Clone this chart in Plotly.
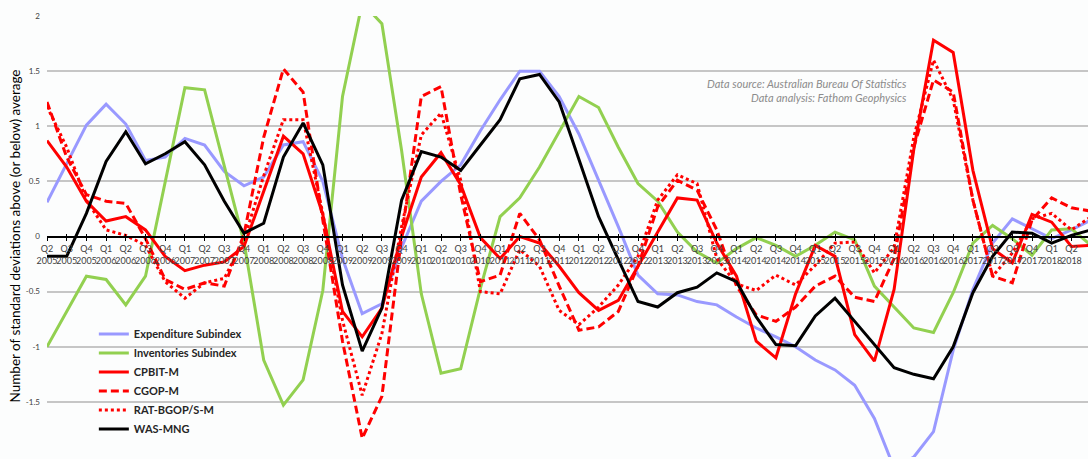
import plotly.graph_objects as go

quarters = ["Q2", "Q3", "Q4"] + ["Q1", "Q2", "Q3", "Q4"] * 12 + ["Q1", "Q2", "Q3"]
years = ["2005"] * 3 + [str(y) for y in range(2006, 2018) for _ in range(4)] + ["2018"] * 3
tick_labels = [f"{q}<br>{y}" for q, y in zip(quarters, years)]

expenditure = [0.31, 0.66, 1.01, 1.20, 1.02, 0.69, 0.72, 0.89, 0.83, 0.59, 0.46,
               0.54, 0.83, 0.86, 0.50, -0.20, -0.70, -0.61, -0.10, 0.32, 0.50, 0.65,
               0.96, 1.24, 1.50, 1.50, 1.27, 0.93, 0.51, 0.09, -0.35, -0.52, -0.53,
               -0.59, -0.62, -0.73, -0.83, -0.91, -1.00, -1.12, -1.21, -1.35, -1.65,
               -2.10, -2.00, -1.77, -1.03, -0.48, -0.06, 0.16, 0.07, -0.02, 0.06, 0.15]
inventories = [-1.00, -0.68, -0.36, -0.39, -0.62, -0.36, 0.50, 1.35, 1.33, 0.65, -0.05,
               -1.12, -1.53, -1.30, -0.49, 1.27, 2.12, 1.93, 0.78, -0.52, -1.24, -1.20,
               -0.47, 0.18, 0.35, 0.63, 0.95, 1.27, 1.17, 0.81, 0.48, 0.32, 0.04,
               -0.14, -0.24, -0.11, -0.01, -0.08, -0.18, -0.08, 0.04, -0.03, -0.45,
               -0.64, -0.83, -0.87, -0.51, -0.06, 0.10, -0.02, -0.17, 0.06, 0.07, -0.08]
cpbit = [0.87, 0.63, 0.32, 0.14, 0.18, 0.06, -0.18, -0.31, -0.26, -0.23, -0.09,
         0.42, 0.91, 0.75, 0.20, -0.68, -0.91, -0.65, 0.00, 0.54, 0.76, 0.47,
         -0.01, -0.20, 0.00, -0.06, -0.27, -0.51, -0.67, -0.58, -0.27, 0.03, 0.35,
         0.33, -0.06, -0.36, -0.95, -1.10, -0.52, -0.08, -0.18, -0.89, -1.13,
         -0.48, 0.79, 1.78, 1.67, 0.60, -0.11, -0.24, 0.20, 0.13, -0.09, -0.08]
cgop = [1.22, 0.72, 0.38, 0.32, 0.30, -0.02, -0.39, -0.48, -0.42, -0.45, 0.02,
        0.90, 1.52, 1.31, 0.15, -0.95, -1.83, -1.45, 0.00, 1.27, 1.36, 0.38,
        -0.41, -0.35, 0.21, -0.03, -0.45, -0.85, -0.82, -0.68, -0.27, 0.27, 0.51,
        0.42, 0.06, -0.45, -0.71, -0.77, -0.64, -0.45, -0.36, -0.55, -0.59,
        -0.20, 0.81, 1.42, 1.31, 0.33, -0.36, -0.42, 0.15, 0.35, 0.26, 0.23]
rat = [1.18, 0.81, 0.33, 0.06, 0.01, -0.08, -0.41, -0.56, -0.42, -0.38, -0.03,
       0.55, 1.06, 1.06, 0.21, -0.76, -1.44, -0.88, 0.09, 0.92, 1.12, 0.51,
       -0.50, -0.52, -0.12, -0.27, -0.67, -0.80, -0.64, -0.44, -0.18, 0.33, 0.56,
       0.48, -0.20, -0.43, -0.49, -0.35, -0.44, -0.26, -0.06, -0.05, -0.33,
       -0.10, 0.90, 1.60, 1.24, 0.33, -0.36, -0.15, 0.16, 0.21, 0.06, 0.18]
was = [-0.18, -0.18, 0.21, 0.68, 0.95, 0.66, 0.75, 0.86, 0.65, 0.32, 0.03,
       0.12, 0.72, 1.03, 0.65, -0.44, -1.04, -0.65, 0.33, 0.77, 0.72, 0.60,
       0.83, 1.06, 1.43, 1.47, 1.22, 0.69, 0.18, -0.21, -0.59, -0.64, -0.51,
       -0.46, -0.33, -0.41, -0.73, -0.98, -0.99, -0.72, -0.56, -0.77, -0.98,
       -1.19, -1.25, -1.29, -1.00, -0.51, -0.18, 0.04, 0.03, -0.06, 0.01, 0.06]

series = [
    ("Expenditure Subindex", expenditure, "#9999FF", "solid"),
    ("Inventories Subindex", inventories, "#92D050", "solid"),
    ("CPBIT-M", cpbit, "#FF0000", "solid"),
    ("CGOP-M", cgop, "#FF0000", "8px,4px"),
    ("RAT-BGOP/S-M", rat, "#FF0000", "3px,3px"),
    ("WAS-MNG", was, "#000000", "solid"),
]

x_idx = list(range(len(tick_labels)))

fig = go.Figure()
for name, vals, color, dash in series:
    fig.add_trace(go.Scatter(x=x_idx, y=vals, mode="lines", name=name,
                             line=dict(color=color, width=3, dash=dash)))

font_family = "Lato, Open Sans, sans-serif"
xr = [0, 1041 / 19.7]

fig.update_layout(
    width=1088, height=459,
    margin=dict(l=47, r=0, t=16, b=2),
    paper_bgcolor="#fcfdfd", plot_bgcolor="#fcfdfd",
    font=dict(family=font_family, color="#404040"),
    showlegend=True,
    legend=dict(x=0.045, y=0.312, xanchor="left", yanchor="top",
                bgcolor="rgba(0,0,0,0)", itemwidth=30,
                font=dict(size=11, color="#262626", weight="bold"),
                tracegroupgap=0),
    xaxis=dict(range=xr, tickvals=x_idx, ticktext=tick_labels,
               anchor="free", position=0.5, showgrid=False, zeroline=False,
               showline=True, linecolor="#000000", linewidth=1.5,
               ticks="outside", ticklen=4, tickwidth=1, tickcolor="#000000",
               tickfont=dict(size=9, color="#404040"), tickangle=0),
    xaxis2=dict(range=xr, tickvals=x_idx, overlaying="x", anchor="free",
                position=0.5, showgrid=False, zeroline=False, showline=False,
                showticklabels=False, ticks="inside", ticklen=3, tickwidth=1,
                tickcolor="#000000"),
    yaxis=dict(range=[-2, 2], tickvals=[-2, -1.5, -1, -0.5, 0, 0.5, 1, 1.5, 2],
               ticktext=["-2", "-1.5", "-1", "-0.5", "0", "0.5", "1", "1.5", "2"],
               showgrid=True, gridcolor="#c6c6c6", gridwidth=1.5,
               zeroline=False, showline=False, ticks="", ticklabelstandoff=6,
               tickfont=dict(size=8, color="#404040")),
    annotations=[
        dict(text="Number of standard deviations above (or below) average",
             xref="paper", yref="paper", x=(14 - 47) / 1041, y=0.5,
             xanchor="center", yanchor="middle", textangle=-90, showarrow=False,
             font=dict(size=13.5, color="#000000", family=font_family)),
        dict(text="<i>Data source: Australian Bureau Of Statistics</i><br><i>Data analysis: Fathom Geophysics</i>",
             xref="paper", yref="paper", x=(909 - 47) / 1041, y=(457 - 75) / 441,
             xanchor="right", yanchor="top", align="right", showarrow=False,
             font=dict(size=11, color="#8c8c8c", family=font_family)),
    ],
)
# invisible trace so the overlay axis (inner tick marks) is drawn
fig.add_trace(go.Scatter(x=[0], y=[0], xaxis="x2", mode="markers",
                         marker=dict(opacity=0), showlegend=False, hoverinfo="skip"))

fig.write_html("out.html", config={"displayModeBar": False},
               post_script="document.body.style.margin='0';document.body.style.overflow='hidden';")
